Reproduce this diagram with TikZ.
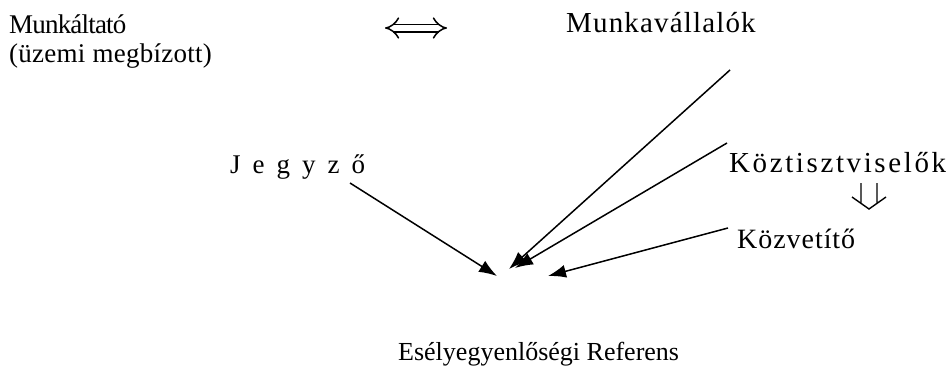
\documentclass[tikz,border=0pt]{standalone}
\usepackage{fontspec}
\setmainfont{Liberation Serif}
\usetikzlibrary{positioning}
\usetikzlibrary{arrows.meta}
\tikzset{edge/.style = {-{Latex[length=18pt,width=13pt]}, line width=1.5pt}}
\newcommand{\ritkit}[1]{\addfontfeature{LetterSpace=#1}}

\begin{document}
\begin{tikzpicture}[x=1pt,y=1pt,label node/.style={inner sep=0pt,anchor=base west,font=\fontsize{27}{31}\selectfont}]
            \useasboundingbox (0,0) rectangle (951,-375);
            \node[label node] (munkaltato) at (9,-33) {\ritkit{-3}Munkáltató};
            \node[label node] (megbizott) at (9,-62) {\ritkit{1}(üzemi megbízott)};
            \node[label node,font=\fontsize{29}{33}\selectfont] (munkavallalok) at (566,-32) {\ritkit{4}Munkavállalók};
            \node[label node] (jegyzo) at (230,-173) {J\kern12pt e\kern12pt g\kern12pt y\kern12pt z\kern12pt ő};
            \node[label node,font=\fontsize{29}{33}\selectfont] (koztisztviselok) at (729,-172) {\ritkit{9}Köztisztviselők};
            \node[label node,font=\fontsize{28}{32}\selectfont] (kozvetito) at (737,-248) {\ritkit{3.4}Közvetítő};
            \node[label node,font=\fontsize{26}{30}\selectfont] (referens) at (398,-360) {Esélyegyenlőségi Referens};

            \coordinate (jstart) at (350,-183);
            \coordinate (mstart) at (730,-70);
            \coordinate (kstart) at (727,-143);
            \coordinate (vstart) at (728,-228);
            \coordinate (tip1) at (497,-276);
            \coordinate (tip2) at (509,-269);
            \coordinate (tip3) at (515,-268);
            \coordinate (tip4) at (548,-276);

            \path[edge]
                (jstart) edge (tip1)
                (mstart) edge (tip2)
                (kstart) edge (tip3)
                (vstart) edge (tip4)
                ;

            % kapcsolat ket oldal kozott
            \coordinate (kleft) at (385,-28);
            \coordinate (kright) at (447,-28);
            \draw[double, double distance=6pt, line width=1.5pt, {Implies}-{Implies}] (kleft) -- (kright);

            % lefele nyil
            \draw[line width=1.4pt] (861,-183) -- (861,-204)
                (877,-183) -- (877,-204)
                (852,-197) -- (869,-209) -- (886,-197);
        \end{tikzpicture}
\end{document}
